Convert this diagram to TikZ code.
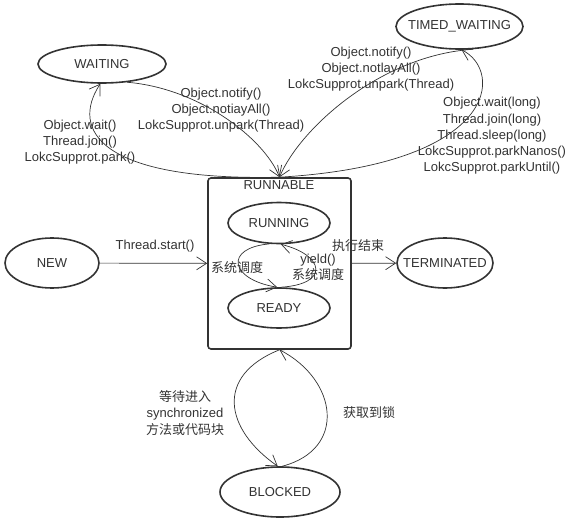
\documentclass[tikz,border=0pt]{standalone}
\usepackage{fontspec}
\setmainfont{Liberation Sans}
\newfontfamily\cjk{Noto Sans CJK SC}
\usetikzlibrary{shapes.geometric,arrows.meta,calc}
\definecolor{linec}{HTML}{333333}
\definecolor{textc}{HTML}{333333}
\begin{document}
\begin{tikzpicture}[x=1pt,y=-1pt,
  lbl/.style={text=textc, font=\fontsize{13}{16.3}\selectfont, align=center, inner sep=0pt},
  state/.style={ellipse, draw=linec, line width=1.6pt, fill=white, inner sep=0pt},
  edge/.style={draw=linec, line width=0.7pt, -{Straight Barb[length=10pt,width=13pt]}}]
\useasboundingbox (0,0) rectangle (570,527);

% states
\node[state, minimum width=128pt, minimum height=38pt, label={[lbl]center:WAITING}] (waiting) at (102,64) {};
\node[state, minimum width=127pt, minimum height=45pt, label={[lbl]center:TIMED\_WAITING}] (timed) at (459.5,26.5) {};
\node[draw=linec, line width=1.6pt, rounded corners=3pt, minimum width=143pt, minimum height=171pt, inner sep=0pt] (box) at (279.5,263.5) {};
\node[lbl] (runnable) at (279,185) {RUNNABLE};
\node[state, minimum width=102pt, minimum height=41pt, label={[lbl]center:RUNNING}] (running) at (279,223) {};
\node[state, minimum width=102pt, minimum height=40pt, label={[lbl]center:READY}] (ready) at (279,308) {};
\node[state, minimum width=94pt, minimum height=50pt, label={[lbl]center:NEW}] (new) at (52,263) {};
\node[state, minimum width=96pt, minimum height=50pt, label={[lbl]center:TERMINATED}] (term) at (445,263) {};
\node[state, minimum width=120pt, minimum height=50pt, label={[lbl]center:BLOCKED}] (blocked) at (280,492) {};

% connectors
\draw[edge] (new) -- (box);
\draw[edge] (box) -- (term);
\draw[edge] (waiting.-36) .. controls +(73,6) and +(-15,-38) .. (box.north);
\draw[edge] (box.north) .. controls +(-180,4) and +(-30,46) .. (waiting.265);
\draw[edge] (box.north) .. controls +(220,-13) and +(42,21) .. (timed.-85);
\draw[edge] (timed.-59) .. controls +(-93,6) and +(20,-48) .. (box.north);
\draw[edge] (running.-115) .. controls +(-45,4) and +(-48,-8) .. (ready.95);
\draw[edge] (ready.85) .. controls +(49,-3) and +(44,11) .. (running.-85);
\draw[edge] (box.south) .. controls +(-65,26) and +(-53,-37) .. (blocked.95);
\draw[edge] (blocked.85) .. controls +(65,-17) and +(58,30) .. (box.south);

% labels
\node[lbl] (lstart) at (155,246) {Thread.start()};
\node[lbl] (lend) at (358,246) {\cjk 执行结束};
\node[lbl] (lwaitin) at (221,110) {Object.notify()\\Object.notiayAll()\\LokcSupprot.unpark(Thread)};
\node[lbl] (lwaitout) at (80,142) {Object.wait()\\Thread.join()\\LokcSupprot.park()};
\node[lbl] (ltimedin) at (371,69) {Object.notify()\\Object.notlayAll()\\LokcSupprot.unpark(Thread)};
\node[lbl] (ltimedout) at (492,136) {Object.wait(long)\\Thread.join(long)\\Thread.sleep(long)\\LokcSupprot.parkNanos()\\LokcSupprot.parkUntil()};
\node[lbl] (lsched) at (237,268) {\cjk 系统调度};
\node[lbl] (lyield) at (318,267) {yield()\\\cjk 系统调度};
\node[lbl] (lblockin) at (185,413) {\cjk 等待进入\\synchronized\\\cjk 方法或代码块};
\node[lbl] (lblockout) at (369,413) {\cjk 获取到锁};
\end{tikzpicture}
\end{document}
